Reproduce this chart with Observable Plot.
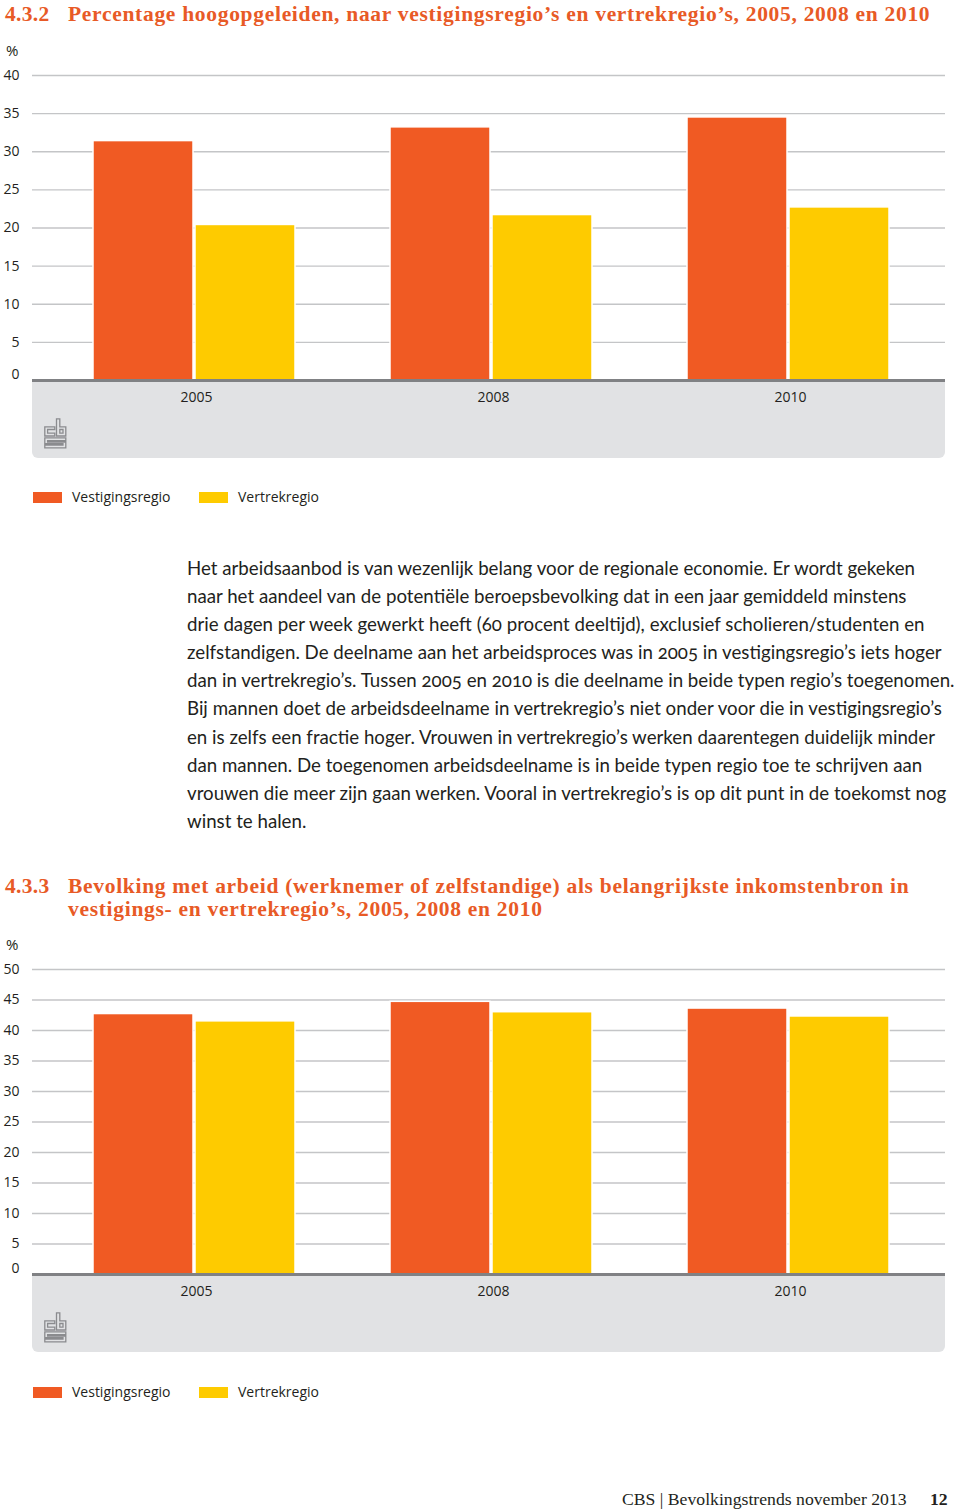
<!DOCTYPE html>
<html>
<head>
<meta charset="utf-8">
<script src="https://cdn.jsdelivr.net/npm/d3@7"></script>
<script src="https://cdn.jsdelivr.net/npm/@observablehq/plot@0.6"></script>
<style>
  html, body { margin: 0; padding: 0; background: #fff; }
  #page { position: relative; width: 960px; height: 1511px; overflow: hidden; color: #231f20; }
  .abs { position: absolute; }
  .title { font-family: "Liberation Serif", serif; font-weight: bold; font-size: 21.5px; letter-spacing: 0.7px; color: #e85a26; line-height: 23px; white-space: nowrap; }
  .title .num { display: inline-block; width: 63px; letter-spacing: 0.3px; }
  .pct { font-family: "Open Sans", sans-serif; font-size: 15px; color: #231f20; }
  .greybox { background: #e1e2e4; border-radius: 0 0 6px 6px; }
  .legend { font-family: "Open Sans", sans-serif; font-size: 14px; color: #231f20; white-space: nowrap; }
  .legend .sw { position: absolute; width: 29px; height: 11px; }
  .legend .lb { position: absolute; line-height: 20px; }
  .body { font-family: Lato, sans-serif; font-size: 18.7px; line-height: 28.1px; color: #231f20; font-feature-settings: "onum"; white-space: nowrap; }
  .footer { font-family: "Liberation Serif", serif; font-size: 17.7px; color: #231f20; white-space: nowrap; }
</style>
</head>
<body>
<div id="page">
  <div class="abs title" style="left:5px; top:3px;"><span class="num">4.3.2</span>Percentage hoogopgeleiden, naar vestigingsregio’s en vertrekregio’s, 2005, 2008 en 2010</div>
  <div class="abs pct" style="left:6px; top:40px;">%</div>
  <div class="abs greybox" style="left:32px; top:380px; width:913px; height:78px;"></div>
  <div id="chart1" class="abs" style="left:0; top:40px;"></div>
  <div class="abs logo" style="left:44px; top:418px;"></div>
  <div id="legend1" class="abs legend" style="left:0; top:487px; width:400px; height:22px;"></div>

  <div class="abs body" style="left:187px; top:554px;">
    Het arbeidsaanbod is van wezenlijk belang voor de regionale economie. Er wordt gekeken<br>
    naar het aandeel van de potentiële beroepsbevolking dat in een jaar gemiddeld minstens<br>
    drie dagen per week gewerkt heeft (60 procent deeltijd), exclusief scholieren/studenten en<br>
    zelfstandigen. De deelname aan het arbeidsproces was in 2005 in vestigingsregio’s iets hoger<br>
    dan in vertrekregio’s. Tussen 2005 en 2010 is die deelname in beide typen regio’s toegenomen.<br>
    Bij mannen doet de arbeidsdeelname in vertrekregio’s niet onder voor die in vestigingsregio’s<br>
    en is zelfs een fractie hoger. Vrouwen in vertrekregio’s werken daarentegen duidelijk minder<br>
    dan mannen. De toegenomen arbeidsdeelname is in beide typen regio toe te schrijven aan<br>
    vrouwen die meer zijn gaan werken. Vooral in vertrekregio’s is op dit punt in de toekomst nog<br>
    winst te halen.
  </div>

  <div class="abs title" style="left:5px; top:875px;"><span class="num">4.3.3</span>Bevolking met arbeid (werknemer of zelfstandige) als belangrijkste inkomstenbron in<br><span class="num"></span>vestigings- en vertrekregio’s, 2005, 2008 en 2010</div>
  <div class="abs pct" style="left:6px; top:934px;">%</div>
  <div class="abs greybox" style="left:32px; top:1274px; width:913px; height:78px;"></div>
  <div id="chart2" class="abs" style="left:0; top:934px;"></div>
  <div class="abs logo" style="left:44px; top:1312px;"></div>
  <div id="legend2" class="abs legend" style="left:0; top:1382px; width:400px; height:22px;"></div>

  <div class="abs footer" style="left:622px; top:1489px;">CBS | Bevolkingstrends november 2013</div>
  <div class="abs footer" style="left:930px; top:1489px; font-weight:bold;">12</div>
</div>
<script>
// ---- data ----
const years = ["2005", "2008", "2010"];
const seriesNames = ["Vestigingsregio", "Vertrekregio"];
const seriesColors = ["#f05a23", "#fecb00"];

// 4.3.2 Percentage hoogopgeleiden
const hoogVestiging = [31.4, 33.2, 34.5];
const hoogVertrek = [20.4, 21.7, 22.7];
const yTicks1 = [0, 5, 10, 15, 20, 25, 30, 35, 40];

// 4.3.3 Bevolking met arbeid
const arbeidVestiging = [42.7, 44.7, 43.6];
const arbeidVertrek = [41.5, 43.0, 42.3];
const yTicks2 = [0, 5, 10, 15, 20, 25, 30, 35, 40, 45, 50];

function makeChart(vest, vert, ticks) {
  const rows = years.map((y, i) => ({year: y, vest: vest[i], vert: vert[i]}));
  const yMax = ticks[ticks.length - 1];
  const nonZero = ticks.filter(t => t !== 0);
  return Plot.plot({
    width: 960,
    height: 420,
    marginTop: 35,
    marginBottom: 80,
    marginLeft: 32,
    marginRight: 15,
    style: {fontFamily: "'Open Sans', sans-serif", fontSize: "14px", color: "#231f20", background: "transparent", overflow: "visible"},
    x: {type: "band", domain: years, paddingInner: 0.32, paddingOuter: 0.197, align: 0.52, label: null},
    y: {domain: [0, yMax], ticks: ticks, label: null},
    marks: [
      Plot.gridY(ticks, {stroke: "#c4c5c7", strokeOpacity: 1, strokeWidth: 1.4}),
      Plot.barY(rows, {x: "year", y: "vest", fill: seriesColors[0], insetRight: 102, stroke: "white", strokeWidth: 1.5}),
      Plot.barY(rows, {x: "year", y: "vert", fill: seriesColors[1], insetLeft: 102, stroke: "white", strokeWidth: 1.5}),
      Plot.ruleY([0], {stroke: "#808184", strokeWidth: 3}),
      Plot.axisY(nonZero, {anchor: "left", tickSize: 0, tickPadding: 13, label: null}),
      Plot.axisY([0], {anchor: "left", tickSize: 0, tickPadding: 13, dy: -6, label: null}),
      Plot.axisX({anchor: "bottom", tickSize: 0, tickPadding: 12, dx: 2, label: null})
    ]
  });
}

document.getElementById("chart1").appendChild(makeChart(hoogVestiging, hoogVertrek, yTicks1));
document.getElementById("chart2").appendChild(makeChart(arbeidVestiging, arbeidVertrek, yTicks2));

function makeLegend(el) {
  const swX = [33, 199];
  const lbX = [72, 238];
  seriesNames.forEach((name, i) => {
    const sw = document.createElement("div");
    sw.className = "sw";
    sw.style.left = swX[i] + "px";
    sw.style.top = "5px";
    sw.style.background = seriesColors[i];
    el.appendChild(sw);
    const lb = document.createElement("div");
    lb.className = "lb";
    lb.style.left = lbX[i] + "px";
    lb.style.top = "0px";
    lb.textContent = name;
    el.appendChild(lb);
  });
}
makeLegend(document.getElementById("legend1"));
makeLegend(document.getElementById("legend2"));

const logoSvg = `<svg width="23" height="31" viewBox="0 0 23 31" xmlns="http://www.w3.org/2000/svg" fill="none" stroke="#8a8b8e" stroke-width="1.3">
  <path d="M12.5 0.8 H15.8 V8.8 H21.8 V18 H12.5 Z"/>
  <path d="M15.8 11.5 H19 V15.2 H15.8 Z"/>
  <path d="M0.8 8.8 H10.8 V11.5 H3.6 V15.2 H10.8 V18 H0.8 Z"/>
  <path d="M0.8 19.8 H21.8 V22.6 H3.6 V24 H21.8 V29.8 H0.8 V27 H19 V25.6 H0.8 Z"/>
</svg>`;
document.querySelectorAll(".logo").forEach(el => el.innerHTML = logoSvg);
</script>
</body>
</html>
